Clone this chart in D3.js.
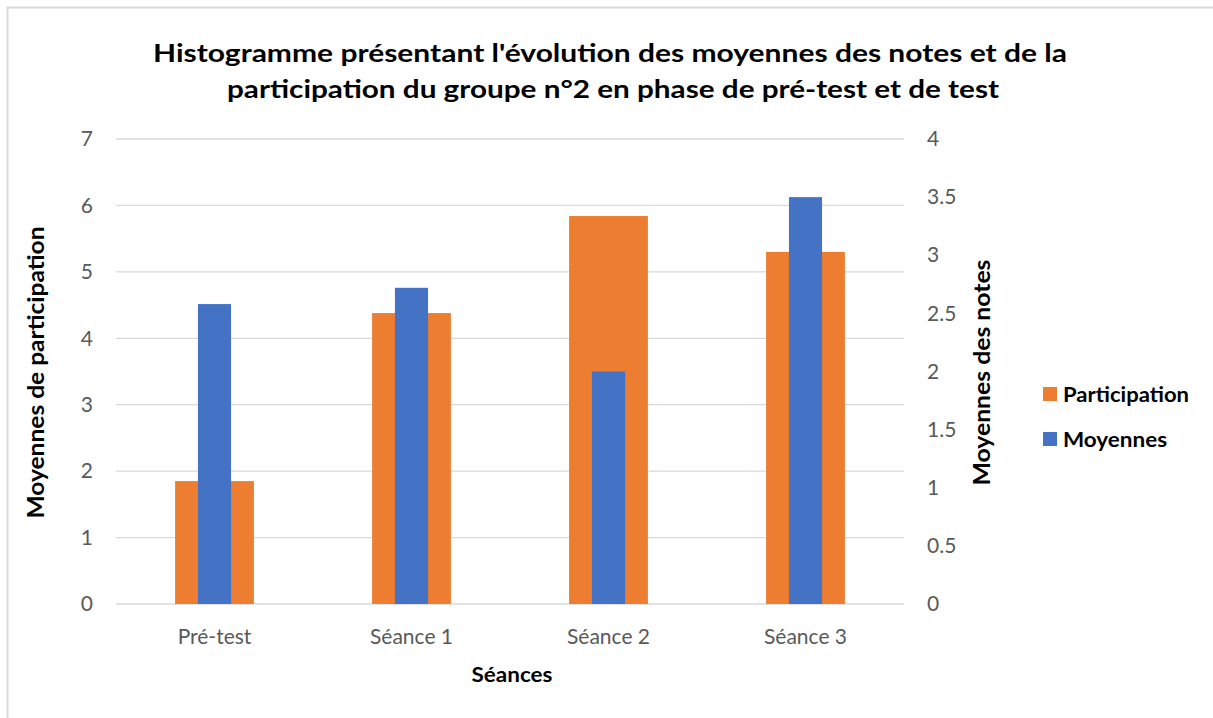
<!DOCTYPE html>
<html>
<head>
<meta charset="utf-8">
<script src="https://cdn.jsdelivr.net/npm/d3@7"></script>
<style>
  body { margin: 0; background: #fff; }
  text { font-family: Lato, "Open Sans", sans-serif; }
</style>
</head>
<body>
<div id="chart"></div>
<script>
const seances = ["Pré-test", "Séance 1", "Séance 2", "Séance 3"];
const participation = [1.85, 4.38, 5.84, 5.30];
const moyennes = [2.58, 2.72, 2.0, 3.5];
const leftTicks = [0, 1, 2, 3, 4, 5, 6, 7];
const rightTicks = [0, 0.5, 1, 1.5, 2, 2.5, 3, 3.5, 4];

const width = 1213, height = 718;
const plot = { left: 116, right: 904, top: 139, bottom: 604 };

const svg = d3.select("#chart").append("svg")
    .attr("width", width)
    .attr("height", height);

// chart area border (only top and left visible)
svg.append("path")
    .attr("d", `M7.5,${height} V7.5 H${width}`)
    .attr("fill", "none")
    .attr("stroke", "#d9d9d9")
    .attr("stroke-width", 2);

const x = d3.scaleBand()
    .domain(seances)
    .range([plot.left, plot.right])
    .paddingInner(0.6)
    .paddingOuter(0.3);

const yLeft = d3.scaleLinear().domain([0, 7]).range([plot.bottom, plot.top]);
const yRight = d3.scaleLinear().domain([0, 4]).range([plot.bottom, plot.top]);

// gridlines
svg.append("g")
    .selectAll("line")
    .data(leftTicks)
    .join("line")
    .attr("x1", plot.left)
    .attr("x2", plot.right)
    .attr("y1", d => yLeft(d))
    .attr("y2", d => yLeft(d))
    .attr("stroke", "#d9d9d9")
    .attr("stroke-width", 1.3);

// participation bars (left axis)
svg.append("g")
    .selectAll("rect")
    .data(participation)
    .join("rect")
    .attr("x", (d, i) => x(seances[i]))
    .attr("width", x.bandwidth())
    .attr("y", d => yLeft(d))
    .attr("height", d => yLeft(0) - yLeft(d))
    .attr("fill", "#ed7d31");

// moyennes bars (right axis), narrower and overlaid
const blueW = x.step() * 0.168;
svg.append("g")
    .selectAll("rect")
    .data(moyennes)
    .join("rect")
    .attr("x", (d, i) => x(seances[i]) + x.bandwidth() / 2 - blueW / 2)
    .attr("width", blueW)
    .attr("y", d => yRight(d))
    .attr("height", d => yRight(0) - yRight(d))
    .attr("fill", "#4472c4");

// axes
const tickStyle = g => {
    g.select(".domain").remove();
    g.selectAll(".tick line").remove();
    g.selectAll(".tick text")
        .attr("fill", "#595959")
        .style("font-size", "21px")
        .style("font-family", "Lato, 'Open Sans', sans-serif");
};

svg.append("g")
    .attr("transform", `translate(${plot.left - 23},0)`)
    .call(d3.axisLeft(yLeft).tickValues(leftTicks).tickSize(0).tickPadding(0).tickFormat(d3.format("d")))
    .call(tickStyle);

svg.append("g")
    .attr("transform", `translate(${plot.right + 23},0)`)
    .call(d3.axisRight(yRight).tickValues(rightTicks).tickSize(0).tickPadding(0).tickFormat(d3.format("~g")))
    .call(tickStyle)
    .selectAll(".tick text").attr("text-anchor", "start");

svg.append("g")
    .attr("transform", `translate(0,${plot.bottom + 25})`)
    .call(d3.axisBottom(x).tickSize(0).tickPadding(0))
    .call(tickStyle);

// titles
const title = svg.append("text")
    .attr("text-anchor", "middle")
    .attr("font-weight", "bold")
    .attr("font-size", 24)
    .attr("fill", "#000");
title.append("tspan").attr("x", 610).attr("y", 62)
    .attr("textLength", 914).attr("lengthAdjust", "spacingAndGlyphs")
    .text("Histogramme présentant l'évolution des moyennes des notes et de la");
title.append("tspan").attr("x", 613).attr("y", 98)
    .attr("textLength", 772).attr("lengthAdjust", "spacingAndGlyphs")
    .text("participation du groupe n°2 en phase de pré-test et de test");

svg.append("text")
    .attr("x", (plot.left + plot.right) / 2 + 2)
    .attr("y", 682)
    .attr("text-anchor", "middle")
    .attr("font-weight", "bold")
    .attr("font-size", 21)
    .attr("textLength", 81).attr("lengthAdjust", "spacingAndGlyphs")
    .text("Séances");

svg.append("text")
    .attr("transform", `translate(44,${(plot.top + plot.bottom) / 2 + 1}) rotate(-90)`)
    .attr("text-anchor", "middle")
    .attr("font-weight", "bold")
    .attr("font-size", 22)
    .attr("textLength", 292).attr("lengthAdjust", "spacingAndGlyphs")
    .text("Moyennes de participation");

svg.append("text")
    .attr("transform", `translate(990,${(plot.top + plot.bottom) / 2 + 1}) rotate(-90)`)
    .attr("text-anchor", "middle")
    .attr("font-weight", "bold")
    .attr("font-size", 22)
    .attr("textLength", 226).attr("lengthAdjust", "spacingAndGlyphs")
    .text("Moyennes des notes");

// legend
const legendItems = [
    { name: "Participation", color: "#ed7d31", w: 126 },
    { name: "Moyennes", color: "#4472c4", w: 104 }
];
const legend = svg.append("g")
    .selectAll("g")
    .data(legendItems)
    .join("g")
    .attr("transform", (d, i) => `translate(1043,${387 + i * 45})`);
legend.append("rect")
    .attr("width", 14)
    .attr("height", 14)
    .attr("fill", d => d.color);
legend.append("text")
    .attr("x", 20)
    .attr("y", 15)
    .attr("font-weight", "bold")
    .attr("font-size", 21)
    .attr("textLength", d => d.w).attr("lengthAdjust", "spacingAndGlyphs")
    .text(d => d.name);
</script>
</body>
</html>
